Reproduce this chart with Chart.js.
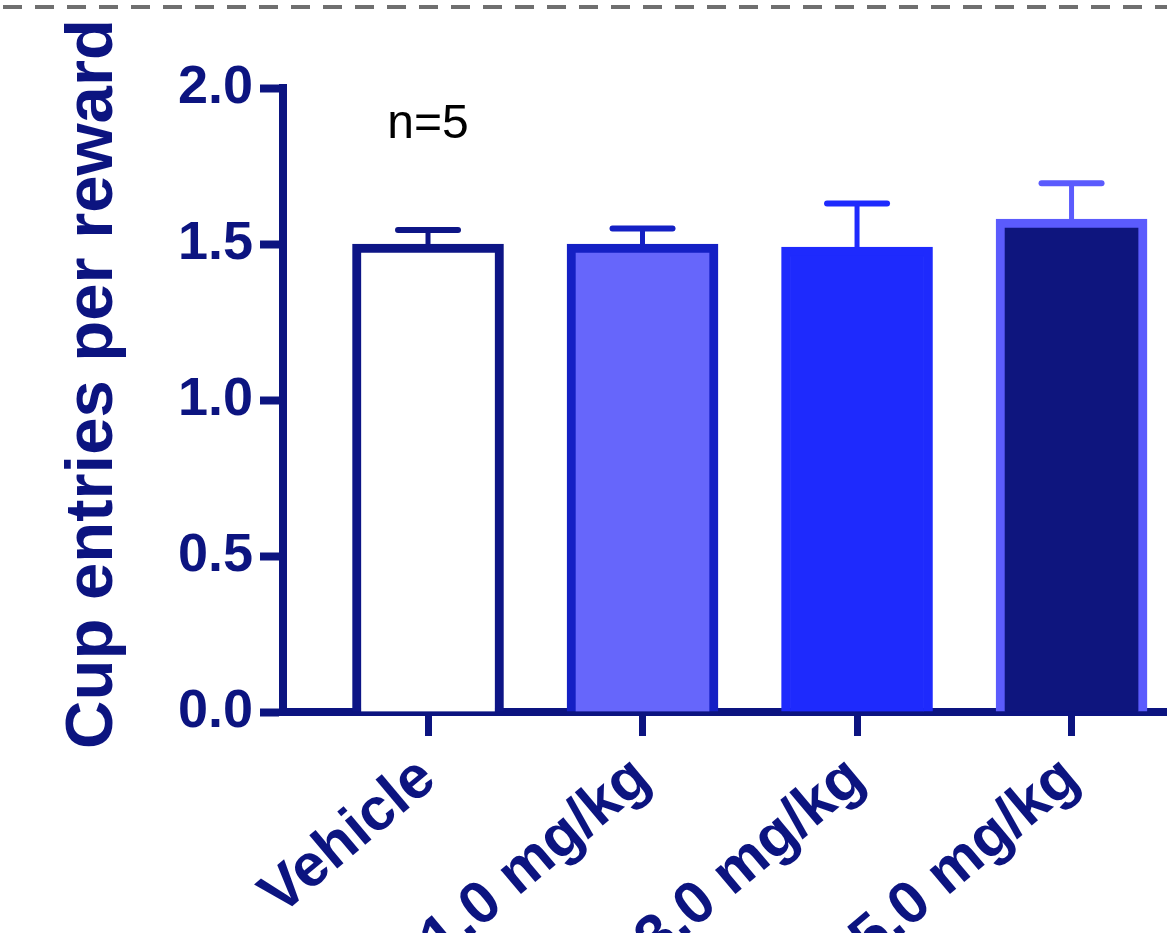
<!DOCTYPE html>
<html>
<head>
<meta charset="utf-8">
<script src="https://cdn.jsdelivr.net/npm/chart.js@4/dist/chart.umd.min.js"></script>
<style>
  html, body { margin: 0; padding: 0; background: #ffffff; overflow: hidden; }
  canvas { display: block; }
</style>
</head>
<body>
<canvas id="c" width="1167" height="933"></canvas>
<script>
// Groups, mean cup entries per reward, and SEM
const categories = ['Vehicle', '1.0 mg/kg', '3.0 mg/kg', '5.0 mg/kg'];
const means = [1.50, 1.50, 1.49, 1.58];
const sem = [0.045, 0.05, 0.14, 0.115];
const yTicks = [0, 0.5, 1.0, 1.5, 2.0];

// Bar styling per group
const fills = ['#ffffff', '#6666fb', '#1e2afd', '#0e157e'];
const edges = ['#0d1586', '#1420c4', '#1e2afd', '#5b5bfd'];

const yTitle = 'Cup entries per reward';
const nLabel = 'n=5';
const nLabelValue = 1.84;

const NAVY = '#0c1480';
const FONT = 'Liberation Sans, Arial, Helvetica, sans-serif';

// Upward-only SEM whiskers in each bar's edge colour
const errorBars = {
  id: 'errorBars',
  afterDatasetsDraw(chart) {
    const ctx = chart.ctx;
    const yScale = chart.scales.y;
    const meta = chart.getDatasetMeta(0);
    meta.data.forEach((bar, i) => {
      const top = yScale.getPixelForValue(means[i] + sem[i]);
      ctx.save();
      ctx.strokeStyle = edges[i];
      ctx.lineCap = 'butt';
      ctx.lineWidth = 5;
      ctx.beginPath();
      ctx.moveTo(bar.x, bar.y);
      ctx.lineTo(bar.x, top);
      ctx.stroke();
      ctx.lineCap = 'round';
      ctx.lineWidth = 6;
      ctx.beginPath();
      ctx.moveTo(bar.x - 30, top);
      ctx.lineTo(bar.x + 30, top);
      ctx.stroke();
      ctx.restore();
    });
  }
};

// Axis title, sample size note and the dashed rule along the top
const decorations = {
  id: 'decorations',
  afterDraw(chart) {
    const ctx = chart.ctx;
    const xs = chart.scales.x, ys = chart.scales.y;
    ctx.save();
    ctx.strokeStyle = '#6f6f6f';
    ctx.lineWidth = 4;
    ctx.setLineDash([19, 13]);
    ctx.beginPath();
    ctx.moveTo(3, 7);
    ctx.lineTo(chart.width, 7);
    ctx.stroke();
    ctx.restore();

    ctx.save();
    ctx.translate(112, 384);
    ctx.rotate(-Math.PI / 2);
    ctx.fillStyle = NAVY;
    ctx.font = 'bold 67px ' + FONT;
    ctx.textAlign = 'center';
    ctx.textBaseline = 'alphabetic';
    ctx.fillText(yTitle, 0, 0);
    ctx.restore();

    ctx.save();
    ctx.fillStyle = '#000000';
    ctx.font = '48px ' + FONT;
    ctx.textAlign = 'center';
    ctx.textBaseline = 'alphabetic';
    ctx.fillText(nLabel, xs.getPixelForValue(0), ys.getPixelForValue(nLabelValue));
    ctx.restore();
  }
};

new Chart(document.getElementById('c'), {
  type: 'bar',
  data: {
    datasets: [{
      data: categories.map((c, i) => ({ x: i, y: means[i] })),
      backgroundColor: fills,
      borderColor: edges,
      borderWidth: 9,
      borderSkipped: 'start',
      barThickness: 151
    }]
  },
  options: {
    responsive: false,
    animation: false,
    devicePixelRatio: 1,
    layout: { padding: { top: 88, left: 0, right: 0, bottom: 0 } },
    plugins: { legend: { display: false }, tooltip: { enabled: false } },
    scales: {
      x: {
        type: 'linear',
        min: -0.676,
        max: 3.445,
        offset: false,
        z: 1,
        afterBuildTicks: s => { s.ticks = categories.map((c, i) => ({ value: i })); },
        afterFit: s => { s.height = 221; },
        border: { display: true, color: NAVY, width: 8 },
        grid: { display: true, offset: false, drawOnChartArea: false, drawTicks: true, tickLength: 24, tickWidth: 7, tickColor: NAVY, color: NAVY },
        ticks: {
          autoSkip: false,
          minRotation: 40,
          maxRotation: 40,
          padding: 7,
          color: NAVY,
          font: { family: FONT, size: 60, weight: 'bold' },
          callback: v => categories[v]
        }
      },
      y: {
        type: 'linear',
        min: 0,
        max: 2,
        z: 1,
        afterBuildTicks: s => { s.ticks = yTicks.map(v => ({ value: v })); },
        afterFit: s => { s.width = 283; },
        border: { display: true, color: NAVY, width: 8 },
        grid: { display: true, drawOnChartArea: false, drawTicks: true, tickLength: 23, tickWidth: 8, tickColor: NAVY, color: NAVY },
        ticks: {
          padding: 7,
          color: NAVY,
          font: { family: FONT, size: 54, weight: 'bold' },
          callback: v => Number(v).toFixed(1)
        }
      }
    }
  },
  plugins: [errorBars, decorations]
});
</script>
</body>
</html>
